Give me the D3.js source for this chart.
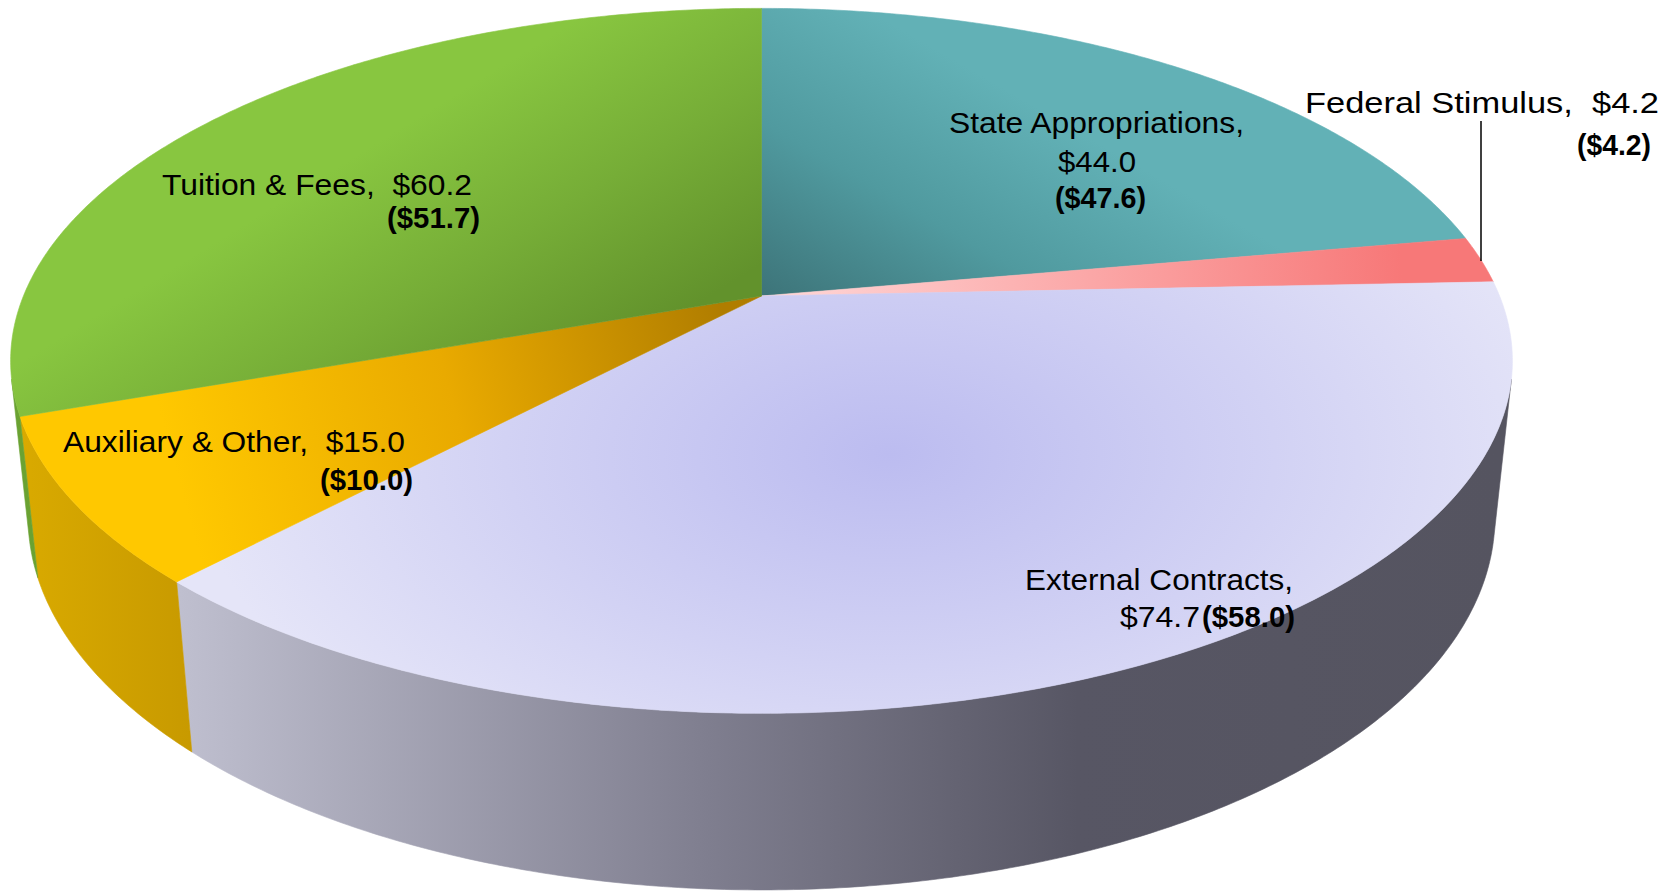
<!DOCTYPE html>
<html>
<head>
<meta charset="utf-8">
<script src="https://cdn.jsdelivr.net/npm/d3@7"></script>
<style>
  html, body { margin: 0; padding: 0; background: #fff; }
  svg { display: block; }
  text { font-family: "Liberation Sans", Arial, sans-serif; fill: #000; }
</style>
</head>
<body>
<svg id="chart"></svg>
<script>
const categories = ['State Appropriations', 'Federal Stimulus', 'External Contracts', 'Auxiliary & Other', 'Tuition & Fees'];
const currentValues = [44.0, 4.2, 74.7, 15.0, 60.2];
const priorValues = [47.6, 4.2, 58.0, 10.0, 51.7];

const fullWidth = 1670;
const fullHeight = 892;

// camera used for the 3d look
const cx = 761.5, cy = 296;
const focal = 3559;
const dist = 4.822;
const tilt = Math.asin(340.5 / 738);
const thickness = 0.241;

function project(theta, y) {
    const u = Math.sin(theta), v = -Math.cos(theta);
    const dep = dist - (y * Math.sin(tilt) + v * Math.cos(tilt));
    const yc = y * Math.cos(tilt) - v * Math.sin(tilt);
    return [cx + focal * u / dep, cy - focal * yc / dep];
}

// wall faces the camera where v > 1 / (dist * cos(tilt))
const vMin = 1 / (dist * Math.cos(tilt));
const wallStart = Math.PI - Math.acos(vMin);
const wallEnd = Math.PI + Math.acos(vMin);

function arcPoints(a0, a1, y) {
    const n = Math.max(2, Math.ceil(Math.abs(a1 - a0) / (Math.PI / 360)));
    return d3.range(n + 1).map(i => project(a0 + (a1 - a0) * i / n, y));
}

const line = d3.line();

const svg = d3.select('#chart')
    .attr('width', fullWidth)
    .attr('height', fullHeight);

const defs = svg.append('defs');

function linear(id, p0, p1, stops) {
    const g = defs.append('linearGradient')
        .attr('id', id)
        .attr('gradientUnits', 'userSpaceOnUse')
        .attr('x1', p0[0]).attr('y1', p0[1])
        .attr('x2', p1[0]).attr('y2', p1[1]);
    stops.forEach(s => g.append('stop').attr('offset', s[0]).attr('stop-color', s[1]));
}

linear('top-0', [770, 300], [920, 40], [[0, '#3d7479'], [0.5, '#509a9f'], [1, '#62b1b6']]);
linear('top-1', [780, 290], [1400, 245], [[0, '#ffd6d6'], [1, '#f77878']]);
linear('top-3', [170, 450], [720, 300], [[0, '#ffc800'], [0.5, '#e9aa00'], [1, '#b07d00']]);
linear('top-4', [720, 290], [560, 30], [[0, '#62922c'], [0.5, '#76ad37'], [1, '#88c640']]);
linear('wall-2', [180, 0], [1500, 0], [[0, '#bfbfcf'], [0.4, '#7f7e8f'], [0.68, '#575664'], [1, '#555460']]);
linear('wall-3', [20, 0], [190, 0], [[0, '#d9aa00'], [1, '#c89a00']]);
linear('wall-4', [10, 0], [30, 0], [[0, '#6aa232'], [1, '#6aa232']]);
linear('wall-0', [0, 0], [1, 0], [[0, '#3d7479'], [1, '#3d7479']]);
linear('wall-1', [0, 0], [1, 0], [[0, '#f77878'], [1, '#f77878']]);

const radial = defs.append('radialGradient')
    .attr('id', 'top-2')
    .attr('gradientUnits', 'userSpaceOnUse')
    .attr('cx', 0).attr('cy', 0).attr('r', 700)
    .attr('gradientTransform', 'translate(890,455) scale(1,0.55)');
radial.append('stop').attr('offset', 0).attr('stop-color', '#bcbcf0');
radial.append('stop').attr('offset', 0.55).attr('stop-color', '#d2d2f4');
radial.append('stop').attr('offset', 1).attr('stop-color', '#e5e5f8');

const pie = d3.pie().sort(null).startAngle(0).endAngle(2 * Math.PI);
const arcs = pie(currentValues);

// side walls first, then top faces on top of them
const walls = svg.append('g').attr('class', 'walls');
arcs.forEach((d, i) => {
    const a0 = Math.max(d.startAngle, wallStart);
    const a1 = Math.min(d.endAngle, wallEnd);
    if (a1 <= a0) return;
    const pts = arcPoints(a0, a1, 0).concat(arcPoints(a1, a0, -thickness));
    walls.append('path')
        .attr('d', line(pts) + 'Z')
        .attr('fill', `url(#wall-${i})`)
        .attr('stroke', `url(#wall-${i})`)
        .attr('stroke-width', 0.6);
});

const tops = svg.append('g').attr('class', 'tops');
arcs.forEach((d, i) => {
    const pts = [[cx, cy]].concat(arcPoints(d.startAngle, d.endAngle, 0));
    tops.append('path')
        .attr('d', line(pts) + 'Z')
        .attr('fill', `url(#top-${i})`)
        .attr('stroke', `url(#top-${i})`)
        .attr('stroke-width', 0.6);
});

// label placement, as laid out by hand in the original
const fmt = d3.format('.1f');
const labelLayout = [
    [{kind: 'name', x: 949, y: 133, w: 295}, {kind: 'value', x: 1058, y: 172, w: 78}, {kind: 'prior', x: 1055, y: 208, w: 91}],
    [{kind: 'both', x: 1305, y: 113, w: 354}, {kind: 'prior', x: 1577, y: 155, w: 74}],
    [{kind: 'name', x: 1025, y: 590, w: 268}, {kind: 'value', x: 1120, y: 627, w: 80}, {kind: 'prior', x: 1202, y: 627, w: 93}],
    [{kind: 'both', x: 63, y: 452, w: 342}, {kind: 'prior', x: 320, y: 490, w: 93}],
    [{kind: 'both', x: 162, y: 195, w: 310}, {kind: 'prior', x: 387, y: 228, w: 93}]
];

function lineText(kind, i) {
    if (kind === 'name') return `${categories[i]},`;
    if (kind === 'value') return `$${fmt(currentValues[i])}`;
    if (kind === 'both') return `${categories[i]},  $${fmt(currentValues[i])}`;
    return `($${fmt(priorValues[i])})`;
}

const labels = svg.append('g').attr('class', 'labels');
labelLayout.forEach((rows, i) => {
    rows.forEach(r => {
        labels.append('text')
            .attr('x', r.x)
            .attr('y', r.y)
            .attr('font-size', 29.5)
            .attr('font-weight', r.kind === 'prior' ? 'bold' : 'normal')
            .attr('textLength', r.w)
            .attr('lengthAdjust', 'spacingAndGlyphs')
            .style('white-space', 'pre')
            .text(lineText(r.kind, i));
    });
});

// leader line for the small slice
labels.append('line')
    .attr('x1', 1481).attr('y1', 121)
    .attr('x2', 1481).attr('y2', 261)
    .attr('stroke', '#000')
    .attr('stroke-width', 1.5);
</script>
</body>
</html>
